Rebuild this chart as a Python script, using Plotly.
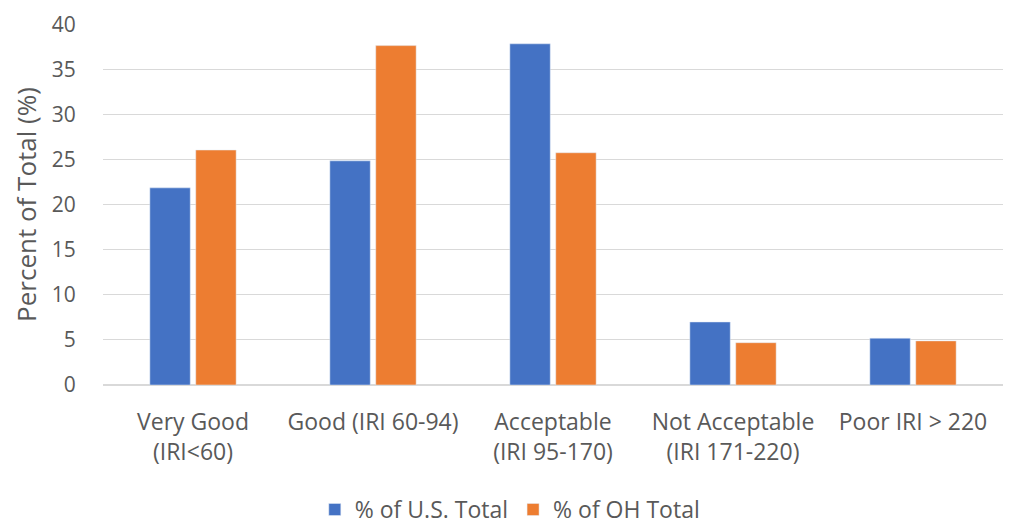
import plotly.graph_objects as go

categories = [
    "Very Good<br>(IRI<60)",
    "Good (IRI 60-94)",
    "Acceptable<br>(IRI 95-170)",
    "Not Acceptable<br>(IRI 171-220)",
    "Poor IRI > 220",
]
us_total = [21.9, 24.9, 37.9, 7.0, 5.2]
oh_total = [26.1, 37.7, 25.8, 4.7, 4.9]
y_ticks = [0, 5, 10, 15, 20, 25, 30, 35, 40]

fig = go.Figure(
    data=[
        go.Bar(name="% of U.S. Total", x=categories, y=us_total, marker_color="#4472C4"),
        go.Bar(name="% of OH Total", x=categories, y=oh_total, marker_color="#ED7D31"),
    ]
)
# page body has an 8px margin, so the figure is shifted by 8px
fig.update_layout(
    width=1021,
    height=527,
    margin=dict(l=95, r=26, t=16, b=150, autoexpand=False),
    plot_bgcolor="white",
    paper_bgcolor="white",
    font=dict(family="Open Sans", size=23, color="#595959"),
    barmode="group",
    bargap=0.49,
    bargroupgap=0.12,
    showlegend=True,
    legend=dict(
        orientation="h",
        x=0.452,
        xanchor="center",
        y=-0.345,
        yanchor="middle",
        font=dict(size=23),
        itemwidth=30,
    ),
)
fig.update_xaxes(showgrid=False, ticks="outside", ticklen=16, tickcolor="white", tickangle=0)
fig.update_yaxes(
    range=[0, 40.1],
    tickvals=y_ticks,
    tickfont=dict(size=21),
    gridcolor="#D9D9D9",
    zeroline=True,
    zerolinecolor="#D9D9D9",
    ticks="outside",
    ticklen=22,
    tickcolor="white",
    ticklabeloverflow="allow",
    title=dict(text="Percent of Total (%)", standoff=12, font=dict(size=26)),
)
fig.write_html("out.html")
